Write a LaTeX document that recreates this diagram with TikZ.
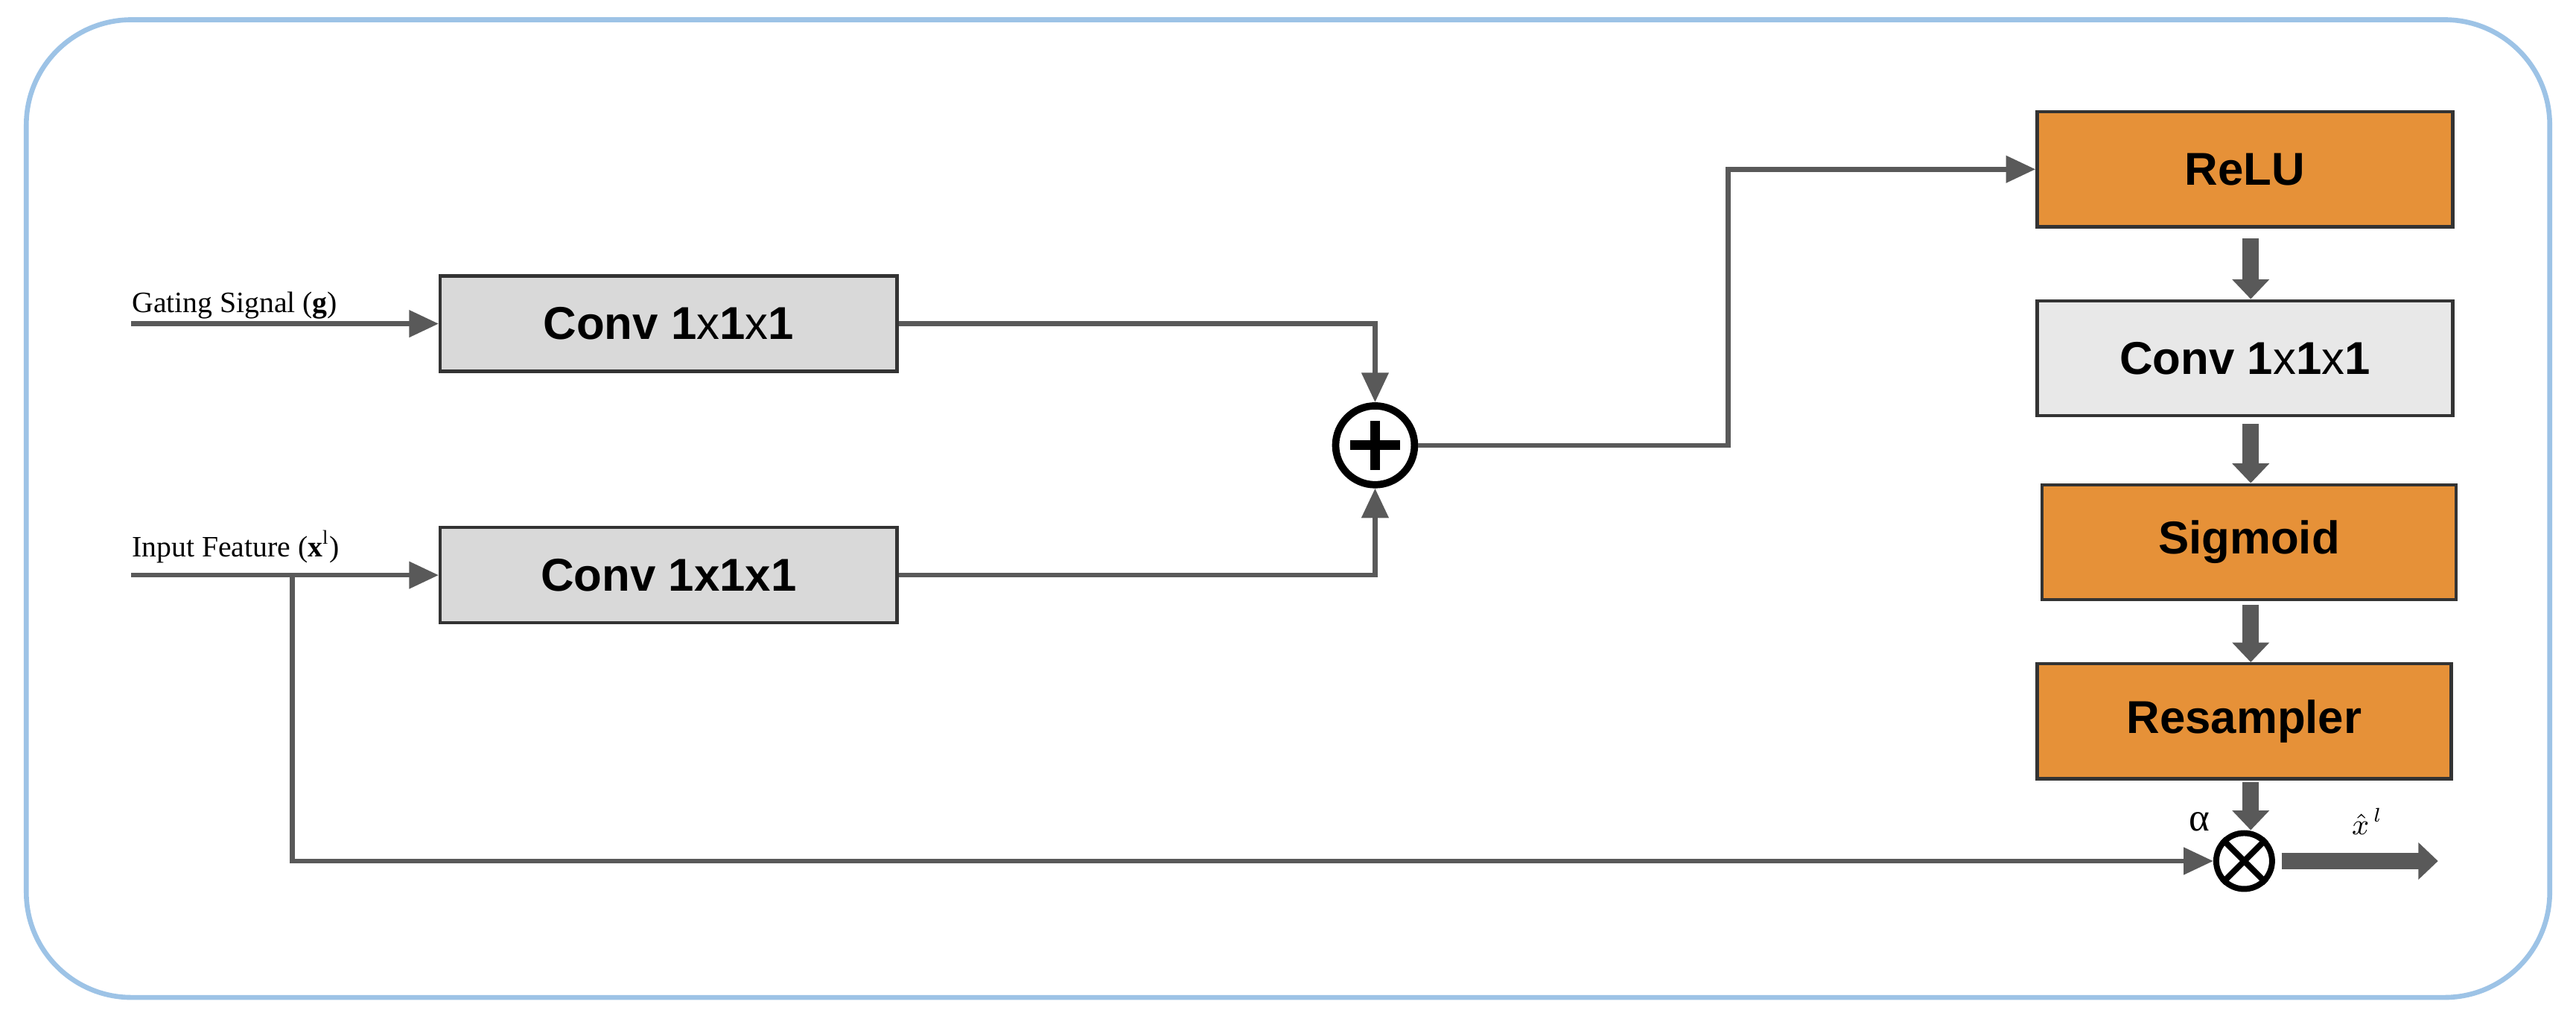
\documentclass[tikz,border=0pt]{standalone}
\usepackage{fontspec}
\setmainfont{Liberation Serif}
\newfontfamily\sansb{Liberation Sans}
\usetikzlibrary{arrows.meta}
\definecolor{lc}{HTML}{595959}
\definecolor{bord}{HTML}{9DC3E6}
\definecolor{org}{HTML}{E69138}
\definecolor{gry}{HTML}{D9D9D9}
\begin{document}
\begin{tikzpicture}[x=0.5pt,y=-0.5pt,
  blk/.style={draw=black!80,line width=1pt,minimum width=139pt,minimum height=29pt,inner sep=0pt,font=\sansb\bfseries\fontsize{14}{16}\selectfont},
  gblk/.style={blk,fill=gry},
  oblk/.style={blk,fill=org,minimum height=35pt,minimum width=126pt},
  conn/.style={draw=lc,line width=1.5pt,-{Triangle[length=9pt,width=8pt]}},
  fat/.style={draw=lc,line width=5pt,-{Triangle[length=6pt,width=11pt]}},
  lab/.style={font=\fontsize{9}{10}\selectfont,anchor=base west,inner sep=0pt}]
\useasboundingbox (0,0) rectangle (1568,618);
\draw[bord,line width=1.5pt,rounded corners=32pt] (16,12) rectangle (1552,607);
\node[gblk] (c1) at (407,197) {Conv 1{\mdseries x}1{\mdseries x}1};
\node[gblk] (c2) at (407,350) {Conv 1x1x1};
\node[lab] (gl) at (80,190) {Gating Signal ($\mathbf{g}$)};
\node[lab] (il) at (80,339) {Input Feature ($\mathbf{x}^{\mathrm{l}}$)};
\coordinate (gs) at (80,197);
\coordinate (is) at (80,350);
\coordinate (br) at (178,350);
\node[circle,draw=black,line width=2.2pt,minimum size=24pt,inner sep=0pt] (plus) at (837,271) {};
\draw[line width=3pt] (plus.center)+(-15,0) -- +(15,0) (plus.center)+(0,-15) -- +(0,15);
\node[oblk,minimum width=126.5pt] (relu) at (1366.5,103) {ReLU};
\node[gblk,fill=gry!60,minimum height=35pt,minimum width=126.5pt] (c3) at (1366.5,218) {Conv 1{\mdseries x}1{\mdseries x}1};
\node[oblk] (sig) at (1369,330) {Sigmoid};
\node[oblk] (res) at (1366,439) {Resampler};
\node[circle,draw=black,line width=1.8pt,minimum size=17pt,inner sep=0pt,fill=white] (mul) at (1366,524) {};
\draw[line width=1.8pt] (mul.45) -- (mul.225) (mul.135) -- (mul.315);
\node[font=\fontsize{12}{12}\selectfont,inner sep=0pt] (al) at (1339,500) {α};
\node[font=\fontsize{9}{10}\selectfont,inner sep=0pt] (xh) at (1441,500) {$\hat{x}^{\,l}$};
\coordinate (out) at (1484,524);
\draw[conn] (gs) -- (c1);
\draw[conn] (is) -- (c2);
\draw[conn] (c1.east) -| (plus.north);
\draw[conn] (c2.east) -| (plus.south);
\draw[conn] (plus.east) -- (1052,271) |- (relu.west);
\draw[conn] (br) |- (mul.west);
\draw[fat] (1370,145) -- (c3.north -| 1370,0);
\draw[fat] (1370,258) -- (sig.north -| 1370,0);
\draw[fat] (1370,368) -- (res.north -| 1370,0);
\draw[fat] (1370,476) -- (mul.north -| 1370,0);
\draw[fat] (mul.east)+(4,0) -- (out);
\end{tikzpicture}
\end{document}
